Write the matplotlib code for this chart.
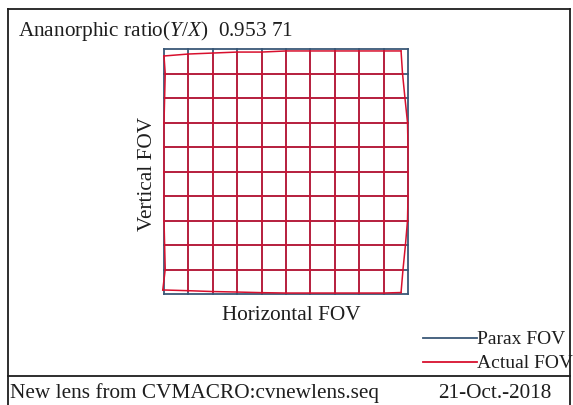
import matplotlib
matplotlib.use("Agg")
import matplotlib.pyplot as plt
from matplotlib.lines import Line2D
import numpy as np

plt.rcParams['font.family'] = ['Liberation Serif', 'DejaVu Serif']
plt.rcParams['mathtext.fontset'] = 'custom'
plt.rcParams['mathtext.rm'] = 'Liberation Serif'
plt.rcParams['mathtext.it'] = 'Liberation Serif:italic'

# paraxial field grid (normalised FOV)
fov = [-1.0, -0.8, -0.6, -0.4, -0.2, 0.0, 0.2, 0.4, 0.6, 0.8, 1.0]

# real ray grid, edge lines (top->bottom for columns, left->right for rows)
left_col_x = [-1.0, -0.99, -0.995, -1.0, -1.0, -1.0, -1.0, -1.0, -0.995, -0.99, -1.01]
right_col_x = [0.943, 0.955, 0.975, 0.996, 1.0, 1.0, 1.0, 0.996, 0.979, 0.959, 0.943]
top_row_y = [0.943, 0.959, 0.967, 0.975, 0.975, 0.984, 0.984, 0.984, 0.984, 0.984, 0.984]
bottom_row_y = [-0.967, -0.973, -0.980, -0.984, -0.989, -0.992, -0.992, -0.992, -0.992, -0.992, -0.988]

ratio = "0.953 71"

blue = '#3a5877'
red = '#d8102e'
ink = '#1e1e1e'

fig = plt.figure(figsize=(5.73, 4.05), dpi=100)
W, H = 573, 405

def px(x, y):
    return x / W, 1 - y / H

# outer frame and footer divider
for (x0, y0), (x1, y1) in [((8, 9), (570, 9)), ((8, 9), (8, 405)), ((570, 9), (570, 405)),
                           ((8, 376), (570, 376))]:
    a, b = px(x0, y0)
    c, d = px(x1, y1)
    fig.add_artist(Line2D([a, c], [b, d], color=ink, lw=1.3, transform=fig.transFigure))

l, b = px(164, 294)
ax = fig.add_axes([l, b, 244 / W, 245 / H])
ax.set_xlim(-1, 1)
ax.set_ylim(-1, 1)
ax.axis('off')

# paraxial grid
for v in fov:
    ax.plot([v, v], [-1, 1], color=blue, lw=1.3, clip_on=False, zorder=1)
    ax.plot([-1, 1], [v, v], color=blue, lw=1.3, clip_on=False, zorder=1)

# actual grid: paraxial positions with measured edge lines
gx, gy = np.meshgrid(fov, fov[::-1])
ax_x = gx.copy()
ax_y = gy.copy()
ax_x[:, 0] = left_col_x
ax_x[:, -1] = right_col_x
ax_y[0, :] = top_row_y
ax_y[-1, :] = bottom_row_y

for i in range(len(fov)):
    ax.plot(ax_x[i, :], ax_y[i, :], color=red, lw=1.1, clip_on=False, zorder=2)
    ax.plot(ax_x[:, i], ax_y[:, i], color=red, lw=1.1, clip_on=False, zorder=2)

fs = 15.3
fig.text(*px(18, 31), r"Ananorphic ratio($\mathit{Y/X}$)  " + ratio, fontsize=fs,
         color=ink, va='center', ha='left')
fig.text(*px(147, 174), "Vertical FOV", fontsize=fs, color=ink, rotation=90,
         va='center', ha='center')
fig.text(*px(291, 316), "Horizontal FOV", fontsize=fs, color=ink, va='center', ha='center')

# legend
for yy, c, lab in [(338, blue, "Parax FOV"), (362, red, "Actual FOV")]:
    a, b2 = px(423, yy)
    c2, _ = px(477, yy)
    fig.add_artist(Line2D([a, c2], [b2, b2], color=c, lw=1.3, transform=fig.transFigure))
    fig.text(*px(477, yy + 1), lab, fontsize=14, color=ink, va='center', ha='left')

fig.text(*px(10, 393), "New lens from CVMACRO:cvnewlens.seq", fontsize=fs, color=ink,
         va='center', ha='left')
fig.text(*px(551, 393), "21-Oct.-2018", fontsize=fs, color=ink, va='center', ha='right')

fig.savefig("out.png", dpi=100)
